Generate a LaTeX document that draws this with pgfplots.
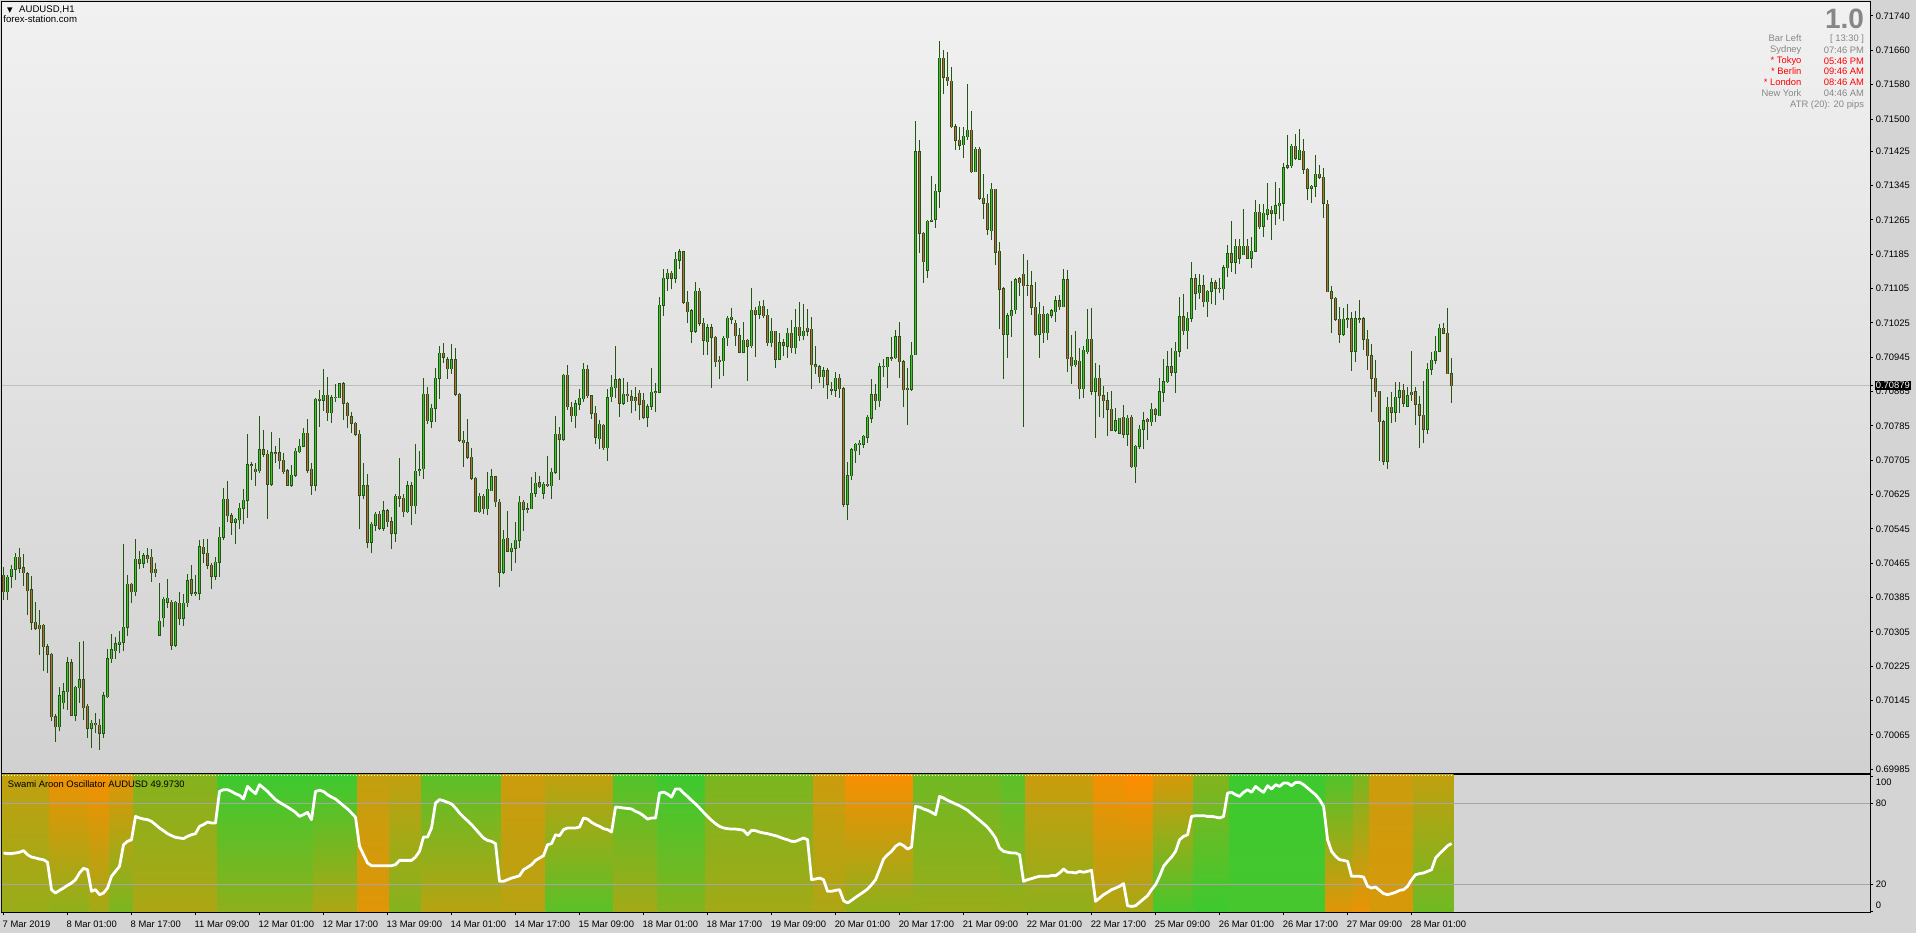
\documentclass[border=0pt]{standalone}
\usepackage{fontspec}
\setmainfont{Liberation Sans}
\newfontfamily\dejavu{DejaVu Sans}
\usepackage{pgfplots}
\usepackage{pgfplotstable}
\pgfplotsset{compat=1.18}
\definecolor{OR}{RGB}{255,140,0}
\definecolor{GR}{RGB}{50,205,50}
\definecolor{wick}{RGB}{35,85,20}
\definecolor{bull}{RGB}{60,200,40}
\definecolor{bear}{RGB}{200,100,70}
\definecolor{bg}{RGB}{212,212,212}
\definecolor{mainTop}{RGB}{241,241,241}
\definecolor{mainBot}{RGB}{209,209,209}
\definecolor{gridc}{RGB}{165,165,165}
\definecolor{pline}{RGB}{190,190,190}
\definecolor{infog}{RGB}{135,135,135}
\newcommand\mtf{\fontsize{4.7}{5.6}\selectfont}

% AUDUSD H1 candles: bar index, open, high, low, close
\pgfplotstableread{
i o h l c
0 0.70437 0.70457 0.70379 0.70399
1 0.70399 0.70437 0.70379 0.70432
2 0.70435 0.70461 0.70408 0.70451
3 0.70451 0.70488 0.70427 0.70479
4 0.70479 0.70500 0.70443 0.70453
5 0.70455 0.70486 0.70412 0.70443
6 0.70441 0.70444 0.70344 0.70401
7 0.70403 0.70435 0.70309 0.70327
8 0.70327 0.70374 0.70309 0.70313
9 0.70320 0.70356 0.70251 0.70312
10 0.70320 0.70323 0.70215 0.70271
11 0.70271 0.70276 0.70210 0.70253
12 0.70253 0.70255 0.70097 0.70107
13 0.70107 0.70113 0.70049 0.70084
14 0.70084 0.70177 0.70073 0.70156
15 0.70140 0.70185 0.70125 0.70166
16 0.70166 0.70246 0.70123 0.70233
17 0.70233 0.70243 0.70109 0.70111
18 0.70111 0.70179 0.70098 0.70176
19 0.70175 0.70281 0.70139 0.70194
20 0.70194 0.70284 0.70100 0.70128
21 0.70132 0.70136 0.70057 0.70080
22 0.70080 0.70100 0.70034 0.70092
23 0.70092 0.70117 0.70069 0.70089
24 0.70088 0.70101 0.70031 0.70069
25 0.70069 0.70166 0.70057 0.70156
26 0.70154 0.70266 0.70152 0.70243
27 0.70243 0.70300 0.70233 0.70263
28 0.70261 0.70294 0.70243 0.70278
29 0.70276 0.70308 0.70255 0.70281
30 0.70281 0.70510 0.70261 0.70316
31 0.70316 0.70437 0.70296 0.70416
32 0.70416 0.70418 0.70372 0.70399
33 0.70399 0.70521 0.70389 0.70474
34 0.70474 0.70494 0.70452 0.70465
35 0.70465 0.70490 0.70453 0.70483
36 0.70483 0.70500 0.70466 0.70476
37 0.70479 0.70499 0.70422 0.70443
38 0.70451 0.70465 0.70432 0.70443
39 0.70297 0.70420 0.70297 0.70330
40 0.70338 0.70387 0.70317 0.70381
41 0.70374 0.70428 0.70360 0.70383
42 0.70374 0.70379 0.70264 0.70274
43 0.70274 0.70378 0.70269 0.70374
44 0.70372 0.70399 0.70321 0.70337
45 0.70337 0.70393 0.70319 0.70372
46 0.70373 0.70439 0.70364 0.70424
47 0.70427 0.70462 0.70389 0.70395
48 0.70395 0.70437 0.70389 0.70396
49 0.70395 0.70519 0.70379 0.70504
50 0.70502 0.70521 0.70466 0.70488
51 0.70488 0.70521 0.70451 0.70460
52 0.70460 0.70465 0.70406 0.70435
53 0.70435 0.70480 0.70427 0.70467
54 0.70467 0.70549 0.70434 0.70525
55 0.70525 0.70640 0.70519 0.70614
56 0.70614 0.70657 0.70560 0.70576
57 0.70576 0.70581 0.70531 0.70560
58 0.70560 0.70570 0.70511 0.70567
59 0.70566 0.70605 0.70544 0.70593
60 0.70593 0.70637 0.70556 0.70612
61 0.70612 0.70766 0.70570 0.70694
62 0.70694 0.70702 0.70659 0.70693
63 0.70684 0.70698 0.70646 0.70678
64 0.70681 0.70808 0.70676 0.70730
65 0.70730 0.70775 0.70713 0.70719
66 0.70719 0.70729 0.70569 0.70649
67 0.70649 0.70770 0.70645 0.70723
68 0.70723 0.70737 0.70698 0.70721
69 0.70723 0.70757 0.70684 0.70704
70 0.70705 0.70723 0.70674 0.70678
71 0.70680 0.70684 0.70645 0.70647
72 0.70647 0.70694 0.70643 0.70670
73 0.70670 0.70733 0.70667 0.70726
74 0.70725 0.70754 0.70721 0.70737
75 0.70737 0.70779 0.70735 0.70768
76 0.70768 0.70800 0.70676 0.70682
77 0.70684 0.70698 0.70625 0.70647
78 0.70647 0.70851 0.70633 0.70847
79 0.70847 0.70869 0.70783 0.70845
80 0.70845 0.70918 0.70820 0.70856
81 0.70856 0.70898 0.70797 0.70816
82 0.70816 0.70857 0.70792 0.70851
83 0.70851 0.70882 0.70841 0.70852
84 0.70851 0.70884 0.70849 0.70883
85 0.70883 0.70887 0.70799 0.70838
86 0.70838 0.70841 0.70779 0.70809
87 0.70806 0.70817 0.70768 0.70791
88 0.70791 0.70793 0.70762 0.70765
89 0.70765 0.70775 0.70544 0.70623
90 0.70623 0.70698 0.70614 0.70646
91 0.70646 0.70673 0.70501 0.70514
92 0.70514 0.70561 0.70488 0.70556
93 0.70553 0.70585 0.70541 0.70579
94 0.70579 0.70587 0.70542 0.70546
95 0.70546 0.70610 0.70541 0.70587
96 0.70587 0.70592 0.70550 0.70562
97 0.70562 0.70572 0.70498 0.70535
98 0.70535 0.70626 0.70515 0.70621
99 0.70621 0.70710 0.70597 0.70616
100 0.70616 0.70626 0.70573 0.70585
101 0.70585 0.70657 0.70583 0.70646
102 0.70646 0.70655 0.70555 0.70599
103 0.70599 0.70743 0.70580 0.70679
104 0.70680 0.70727 0.70668 0.70683
105 0.70685 0.70897 0.70661 0.70859
106 0.70859 0.70876 0.70790 0.70797
107 0.70796 0.70836 0.70781 0.70826
108 0.70826 0.70920 0.70793 0.70896
109 0.70896 0.70971 0.70848 0.70954
110 0.70954 0.70977 0.70931 0.70945
111 0.70939 0.70946 0.70894 0.70918
112 0.70918 0.70975 0.70907 0.70939
113 0.70939 0.70966 0.70855 0.70859
114 0.70859 0.70861 0.70748 0.70751
115 0.70751 0.70773 0.70690 0.70746
116 0.70746 0.70801 0.70707 0.70712
117 0.70712 0.70733 0.70660 0.70663
118 0.70663 0.70665 0.70584 0.70585
119 0.70585 0.70628 0.70583 0.70621
120 0.70621 0.70626 0.70580 0.70592
121 0.70592 0.70678 0.70577 0.70637
122 0.70634 0.70685 0.70634 0.70667
123 0.70667 0.70668 0.70597 0.70608
124 0.70607 0.70614 0.70410 0.70444
125 0.70444 0.70542 0.70441 0.70521
126 0.70523 0.70587 0.70492 0.70493
127 0.70493 0.70513 0.70448 0.70500
128 0.70500 0.70561 0.70466 0.70518
129 0.70518 0.70622 0.70501 0.70607
130 0.70607 0.70612 0.70541 0.70591
131 0.70591 0.70605 0.70581 0.70592
132 0.70592 0.70667 0.70591 0.70628
133 0.70628 0.70678 0.70620 0.70651
134 0.70653 0.70668 0.70641 0.70643
135 0.70628 0.70655 0.70615 0.70649
136 0.70649 0.70715 0.70643 0.70646
137 0.70646 0.70686 0.70615 0.70677
138 0.70677 0.70808 0.70674 0.70765
139 0.70765 0.70783 0.70660 0.70754
140 0.70754 0.70907 0.70750 0.70903
141 0.70903 0.70927 0.70823 0.70830
142 0.70828 0.70841 0.70794 0.70809
143 0.70809 0.70845 0.70780 0.70837
144 0.70835 0.70872 0.70822 0.70849
145 0.70848 0.70932 0.70841 0.70917
146 0.70917 0.70927 0.70851 0.70855
147 0.70855 0.70858 0.70802 0.70814
148 0.70814 0.70831 0.70743 0.70758
149 0.70755 0.70799 0.70731 0.70789
150 0.70786 0.70789 0.70729 0.70734
151 0.70734 0.70872 0.70704 0.70851
152 0.70853 0.70903 0.70841 0.70875
153 0.70874 0.70971 0.70851 0.70892
154 0.70892 0.70897 0.70806 0.70838
155 0.70838 0.70896 0.70834 0.70859
156 0.70859 0.70888 0.70841 0.70855
157 0.70853 0.70869 0.70814 0.70844
158 0.70851 0.70876 0.70820 0.70844
159 0.70861 0.70869 0.70799 0.70835
160 0.70845 0.70861 0.70801 0.70805
161 0.70805 0.70837 0.70782 0.70830
162 0.70831 0.70921 0.70822 0.70863
163 0.70863 0.70886 0.70817 0.70864
164 0.70863 0.71085 0.70861 0.71066
165 0.71066 0.71150 0.71042 0.71129
166 0.71129 0.71150 0.71100 0.71141
167 0.71141 0.71147 0.71103 0.71129
168 0.71129 0.71189 0.71117 0.71173
169 0.71171 0.71196 0.71151 0.71191
170 0.71191 0.71192 0.71070 0.71073
171 0.71073 0.71099 0.71024 0.71051
172 0.71006 0.71057 0.70979 0.71053
173 0.71005 0.71120 0.71001 0.71099
174 0.71099 0.71106 0.71018 0.71024
175 0.71024 0.71037 0.70950 0.70984
176 0.70981 0.71022 0.70950 0.71014
177 0.71014 0.71022 0.70874 0.70991
178 0.70991 0.70994 0.70923 0.70935
179 0.70938 0.70948 0.70894 0.70935
180 0.70937 0.70995 0.70901 0.70989
181 0.70990 0.71041 0.70972 0.71036
182 0.71038 0.71059 0.71022 0.71033
183 0.71024 0.71032 0.70972 0.70995
184 0.70995 0.71012 0.70954 0.70956
185 0.70956 0.71028 0.70954 0.70984
186 0.70984 0.70987 0.70890 0.70970
187 0.70972 0.71107 0.70966 0.71054
188 0.71054 0.71061 0.70946 0.71045
189 0.71045 0.71076 0.71033 0.71064
190 0.71064 0.71078 0.71036 0.71042
191 0.71043 0.71057 0.70970 0.70979
192 0.70979 0.71036 0.70968 0.71006
193 0.71006 0.71007 0.70921 0.70940
194 0.70940 0.71001 0.70938 0.70979
195 0.70979 0.70987 0.70949 0.70973
196 0.70970 0.71012 0.70944 0.71001
197 0.71001 0.71032 0.70954 0.70967
198 0.70967 0.71057 0.70953 0.71015
199 0.71015 0.71074 0.70983 0.70995
200 0.70995 0.71069 0.70985 0.71005
201 0.71012 0.71057 0.70994 0.71005
202 0.71010 0.71039 0.70872 0.70928
203 0.70928 0.70971 0.70906 0.70923
204 0.70923 0.70926 0.70884 0.70900
205 0.70900 0.70923 0.70874 0.70913
206 0.70914 0.70919 0.70847 0.70882
207 0.70870 0.70888 0.70857 0.70868
208 0.70868 0.70911 0.70853 0.70896
209 0.70896 0.70906 0.70851 0.70872
210 0.70872 0.70875 0.70595 0.70602
211 0.70602 0.70701 0.70566 0.70669
212 0.70669 0.70734 0.70659 0.70729
213 0.70727 0.70746 0.70699 0.70742
214 0.70741 0.70752 0.70717 0.70744
215 0.70742 0.70764 0.70733 0.70761
216 0.70758 0.70810 0.70746 0.70805
217 0.70803 0.70894 0.70792 0.70858
218 0.70858 0.70882 0.70822 0.70844
219 0.70844 0.70931 0.70830 0.70923
220 0.70923 0.70941 0.70900 0.70924
221 0.70923 0.70946 0.70874 0.70944
222 0.70944 0.70993 0.70937 0.70942
223 0.70944 0.71008 0.70941 0.70993
224 0.70993 0.71027 0.70896 0.70935
225 0.70935 0.70938 0.70828 0.70869
226 0.70873 0.70919 0.70787 0.70869
227 0.70870 0.70981 0.70867 0.70950
228 0.70951 0.71495 0.70950 0.71424
229 0.71424 0.71451 0.71187 0.71234
230 0.71234 0.71237 0.71119 0.71168
231 0.71148 0.71265 0.71129 0.71262
232 0.71262 0.71368 0.71260 0.71264
233 0.71266 0.71349 0.71247 0.71332
234 0.71332 0.71682 0.71292 0.71641
235 0.71641 0.71661 0.71558 0.71597
236 0.71597 0.71656 0.71578 0.71589
237 0.71588 0.71621 0.71480 0.71482
238 0.71482 0.71488 0.71428 0.71450
239 0.71451 0.71481 0.71428 0.71439
240 0.71440 0.71482 0.71408 0.71460
241 0.71459 0.71582 0.71450 0.71474
242 0.71474 0.71519 0.71375 0.71377
243 0.71377 0.71434 0.71376 0.71429
244 0.71429 0.71434 0.71311 0.71315
245 0.71315 0.71371 0.71266 0.71304
246 0.71304 0.71325 0.71230 0.71243
247 0.71240 0.71351 0.71218 0.71336
248 0.71336 0.71337 0.71160 0.71189
249 0.71192 0.71213 0.71011 0.71103
250 0.71105 0.71109 0.70895 0.70998
251 0.70998 0.71047 0.70944 0.71042
252 0.71042 0.71122 0.70993 0.71053
253 0.71056 0.71130 0.71046 0.71126
254 0.71128 0.71133 0.71088 0.71119
255 0.71138 0.71186 0.70783 0.71112
256 0.71112 0.71172 0.71088 0.71111
257 0.71112 0.71146 0.71044 0.71061
258 0.71061 0.71121 0.70994 0.70997
259 0.70998 0.71074 0.70944 0.71045
260 0.71045 0.71064 0.70979 0.71002
261 0.71002 0.71049 0.70985 0.71045
262 0.71043 0.71058 0.71037 0.71053
263 0.71051 0.71088 0.71028 0.71077
264 0.71077 0.71089 0.71055 0.71063
265 0.71063 0.71150 0.71061 0.71126
266 0.71126 0.71148 0.70911 0.70942
267 0.70945 0.70997 0.70883 0.70925
268 0.70928 0.71005 0.70923 0.70938
269 0.70936 0.70966 0.70847 0.70872
270 0.70872 0.70970 0.70851 0.70961
271 0.70958 0.71057 0.70952 0.70987
272 0.70987 0.71059 0.70858 0.70866
273 0.70866 0.70932 0.70756 0.70896
274 0.70896 0.70928 0.70805 0.70855
275 0.70855 0.70879 0.70803 0.70844
276 0.70844 0.70865 0.70762 0.70824
277 0.70824 0.70866 0.70773 0.70775
278 0.70775 0.70827 0.70771 0.70797
279 0.70768 0.70803 0.70766 0.70803
280 0.70805 0.70834 0.70756 0.70765
281 0.70765 0.70810 0.70739 0.70803
282 0.70805 0.70810 0.70688 0.70690
283 0.70690 0.70740 0.70653 0.70737
284 0.70737 0.70786 0.70731 0.70777
285 0.70777 0.70817 0.70731 0.70797
286 0.70801 0.70804 0.70752 0.70795
287 0.70795 0.70838 0.70785 0.70824
288 0.70824 0.70827 0.70795 0.70812
289 0.70809 0.70896 0.70808 0.70865
290 0.70863 0.70942 0.70841 0.70888
291 0.70888 0.70959 0.70886 0.70923
292 0.70923 0.70966 0.70902 0.70910
293 0.70910 0.70981 0.70862 0.70959
294 0.70959 0.71085 0.70946 0.71039
295 0.71039 0.71092 0.70997 0.71007
296 0.71007 0.71050 0.70964 0.71036
297 0.71036 0.71166 0.71026 0.71128
298 0.71128 0.71138 0.71055 0.71094
299 0.71095 0.71140 0.71081 0.71112
300 0.71112 0.71137 0.71063 0.71074
301 0.71074 0.71102 0.71039 0.71099
302 0.71099 0.71130 0.71069 0.71119
303 0.71119 0.71125 0.71067 0.71106
304 0.71106 0.71129 0.71094 0.71104
305 0.71104 0.71161 0.71078 0.71154
306 0.71154 0.71206 0.71133 0.71186
307 0.71186 0.71262 0.71143 0.71166
308 0.71166 0.71220 0.71140 0.71203
309 0.71203 0.71220 0.71162 0.71176
310 0.71184 0.71290 0.71183 0.71203
311 0.71203 0.71220 0.71174 0.71176
312 0.71176 0.71226 0.71154 0.71192
313 0.71192 0.71311 0.71191 0.71283
314 0.71283 0.71302 0.71243 0.71249
315 0.71250 0.71302 0.71226 0.71280
316 0.71278 0.71351 0.71265 0.71290
317 0.71287 0.71297 0.71218 0.71281
318 0.71280 0.71354 0.71253 0.71298
319 0.71298 0.71339 0.71266 0.71304
320 0.71304 0.71397 0.71263 0.71387
321 0.71388 0.71463 0.71383 0.71391
322 0.71391 0.71441 0.71387 0.71436
323 0.71436 0.71465 0.71405 0.71408
324 0.71406 0.71477 0.71405 0.71427
325 0.71425 0.71453 0.71373 0.71383
326 0.71383 0.71387 0.71311 0.71339
327 0.71339 0.71346 0.71305 0.71343
328 0.71343 0.71416 0.71319 0.71371
329 0.71371 0.71393 0.71360 0.71364
330 0.71364 0.71385 0.71270 0.71304
331 0.71301 0.71311 0.71096 0.71098
332 0.71098 0.71111 0.71001 0.71082
333 0.71082 0.71085 0.71030 0.71033
334 0.71033 0.71061 0.70979 0.70998
335 0.70998 0.71059 0.70994 0.71033
336 0.71033 0.71068 0.71012 0.71035
337 0.71035 0.71051 0.70914 0.70959
338 0.70959 0.71053 0.70933 0.71035
339 0.71035 0.71078 0.71024 0.71033
340 0.71035 0.71039 0.70962 0.70987
341 0.70987 0.71008 0.70915 0.70949
342 0.70949 0.70976 0.70817 0.70896
343 0.70896 0.70939 0.70853 0.70865
344 0.70866 0.70867 0.70703 0.70795
345 0.70795 0.70799 0.70694 0.70703
346 0.70703 0.70852 0.70685 0.70828
347 0.70828 0.70865 0.70791 0.70817
348 0.70817 0.70888 0.70795 0.70852
349 0.70852 0.70888 0.70814 0.70867
350 0.70868 0.70883 0.70830 0.70838
351 0.70831 0.70876 0.70830 0.70855
352 0.70863 0.70959 0.70843 0.70858
353 0.70865 0.70875 0.70787 0.70835
354 0.70834 0.70855 0.70733 0.70810
355 0.70810 0.70890 0.70744 0.70777
356 0.70777 0.70932 0.70766 0.70917
357 0.70917 0.70957 0.70904 0.70938
358 0.70938 0.70994 0.70929 0.70959
359 0.70959 0.71022 0.70956 0.71012
360 0.71012 0.71024 0.70999 0.71001
361 0.71001 0.71059 0.70906 0.70907
362 0.70907 0.70944 0.70839 0.70879
}\candles

% Swami Aroon oscillator line (0..100)
\pgfplotstableread{
i v
0 43.0
1 42.5
2 42.5
3 43.0
4 43.5
5 44.7
6 41.7
7 40.0
8 39.3
9 38.5
10 38.0
11 36.1
12 15.8
13 13.3
14 15.3
15 17.0
16 19.0
17 20.7
18 23.2
19 28.2
20 31.6
21 30.6
22 14.6
23 15.8
24 12.1
25 13.3
26 17.0
27 25.7
28 29.4
29 33.1
30 49.1
31 51.6
32 52.8
33 70.1
34 68.9
35 68.1
36 67.7
37 66.4
38 64.0
39 61.5
40 59.5
41 57.3
42 55.8
43 54.6
44 54.1
45 53.6
46 55.3
47 56.5
48 57.3
49 62.7
50 64.0
51 65.9
52 65.2
53 65.2
54 88.6
55 89.9
56 89.9
57 88.6
58 86.9
59 85.7
60 83.0
61 92.3
62 89.4
63 86.9
64 93.6
65 91.1
66 88.6
67 85.4
68 82.5
69 80.5
70 78.8
71 77.0
72 75.1
73 73.1
74 70.1
75 71.4
76 73.1
77 67.7
78 88.6
79 89.4
80 88.6
81 86.2
82 84.4
83 83.0
84 80.5
85 78.0
86 75.6
87 72.6
88 69.4
89 47.9
90 41.7
91 35.6
92 33.6
93 33.6
94 33.6
95 33.6
96 33.6
97 33.6
98 34.3
99 37.5
100 37.5
101 37.5
102 37.5
103 40.0
104 44.2
105 54.8
106 54.8
107 61.5
108 80.0
109 82.5
110 81.7
111 80.5
112 79.3
113 76.3
114 72.6
115 69.6
116 66.9
117 64.0
118 60.7
119 57.3
120 54.1
121 52.3
122 51.6
123 49.9
124 22.0
125 22.0
126 23.2
127 24.4
128 25.2
129 26.2
130 30.6
131 32.4
132 34.3
133 37.5
134 39.3
135 41.0
136 49.1
137 49.9
138 56.5
139 55.8
140 60.3
141 61.5
142 61.5
143 61.5
144 62.2
145 68.9
146 68.1
147 65.7
148 64.0
149 62.7
150 61.0
151 60.3
152 58.5
153 77.0
154 76.8
155 76.3
156 76.0
157 75.6
158 73.8
159 72.6
160 70.6
161 68.1
162 68.9
163 68.9
164 87.4
165 88.1
166 86.7
167 84.4
168 90.4
169 90.4
170 87.4
171 84.9
172 82.0
173 79.3
174 76.3
175 73.1
176 70.1
177 67.2
178 64.7
179 62.7
180 61.5
181 61.0
182 60.7
183 60.7
184 60.3
185 59.8
186 56.5
187 59.8
188 59.5
189 58.5
190 57.8
191 57.3
192 56.5
193 55.8
194 54.8
195 53.6
196 52.8
197 51.6
198 51.6
199 52.8
200 54.1
201 52.8
202 23.2
203 23.7
204 24.4
205 23.2
206 14.6
207 14.6
208 15.3
209 15.8
210 7.7
211 5.9
212 7.9
213 10.1
214 12.1
215 14.1
216 16.3
217 19.5
218 23.2
219 30.6
220 38.5
221 41.7
222 44.2
223 47.9
224 49.9
225 48.4
226 45.9
227 47.4
228 77.5
229 77.0
230 75.6
231 74.6
232 73.1
233 71.4
234 84.9
235 83.7
236 82.0
237 80.7
238 79.3
239 78.0
240 76.3
241 74.6
242 72.1
243 69.6
244 67.2
245 64.7
246 62.0
247 58.3
248 54.1
249 46.7
250 44.2
251 43.5
252 43.0
253 43.0
254 41.7
255 22.0
256 23.2
257 24.0
258 25.0
259 25.7
260 25.7
261 25.7
262 26.2
263 26.2
264 28.2
265 31.1
266 28.7
267 28.7
268 28.2
269 29.4
270 28.7
271 29.4
272 30.1
273 7.2
274 9.6
275 12.1
276 13.8
277 15.8
278 17.0
279 18.3
280 20.3
281 3.9
282 3.4
283 3.9
284 6.4
285 8.9
286 11.4
287 15.8
288 19.5
289 25.7
290 33.1
291 36.8
292 40.0
293 44.2
294 52.8
295 55.3
296 56.5
297 70.1
298 70.6
299 70.6
300 70.6
301 70.1
302 70.1
303 69.6
304 68.9
305 70.1
306 87.4
307 87.9
308 86.2
309 84.9
310 87.9
311 89.9
312 87.9
313 92.3
314 89.9
315 87.9
316 92.8
317 90.4
318 93.6
319 92.3
320 94.8
321 94.8
322 92.8
323 95.3
324 95.3
325 93.6
326 91.1
327 88.6
328 86.2
329 82.5
330 77.5
331 52.8
332 44.2
333 40.5
334 38.0
335 37.5
336 36.8
337 25.7
338 25.7
339 25.7
340 25.2
341 18.3
342 17.0
343 17.8
344 15.3
345 12.9
346 12.1
347 12.9
348 13.8
349 15.3
350 15.8
351 18.3
352 23.2
353 26.9
354 27.7
355 28.2
356 29.4
357 30.6
358 39.3
359 42.5
360 45.4
361 48.4
362 49.97
}\osc

% background band: from, to, top %green, middle %green, bottom %green
\newcommand\seg[5]{\addplot[draw=none, forget plot, top color=GR!#3!OR, middle color=GR!#4!OR, bottom color=GR!#5!OR] coordinates {(#1,0) (#1,101) (#2,101) (#2,0)} -- cycle;}

\begin{document}
\begin{tikzpicture}[x=1pt,y=1pt]
\fill[bg] (0,0) rectangle (958,466.5);
\path[use as bounding box] (0,0) rectangle (958,466.5);

\begin{axis}[
  at={(1pt,80pt)}, anchor=south west, scale only axis,
  width=934pt, height=385.5pt,
  xmin=-0.375, xmax=466.6, ymin=0.699763, ymax=0.717726,
  axis background/.style={top color=mainTop, bottom color=mainBot},
  axis line style={black, line width=0.5pt},
  xtick=\empty,
  ytick={0.69985,0.70065,0.70145,0.70225,0.70305,0.70385,0.70465,0.70545,0.70625,0.70705,0.70785,0.70865,0.70945,0.71025,0.71105,0.71185,0.71265,0.71345,0.71425,0.71500,0.71580,0.71660,0.71740},
  yticklabels={0.69985,0.70065,0.70145,0.70225,0.70305,0.70385,0.70465,0.70545,0.70625,0.70705,0.70785,0.70865,0.70945,0.71025,0.71105,0.71185,0.71265,0.71345,0.71425,0.71500,0.71580,0.71660,0.71740},
  ytick pos=right, yticklabel pos=right, tick align=outside,
  major tick length=1.5pt, tick style={black, line width=0.5pt},
  yticklabel style={anchor=west, inner sep=0pt, xshift=1.2pt, font=\mtf},
  extra y ticks={0.70879}, extra y tick labels={0.70879},
  extra y tick style={grid=major, major grid style={pline, line width=0.5pt},
     yticklabel style={fill=black, text=white, inner sep=0.6pt, xshift=-0.6pt}},
]
\addplot[draw=none, forget plot, error bars/.cd, y dir=plus, y explicit, error mark=none,
  error bar style={draw=wick, line width=0.5pt}]
  table[x=i, y=l, y error expr=\thisrow{h}-\thisrow{l}] {\candles};
\addplot[draw=none, forget plot, error bars/.cd, y dir=plus, y explicit, error mark=none,
  error bar style={draw=wick, line width=1.5pt}]
  table[x=i, y expr={min(\thisrow{o},\thisrow{c})-0.000012}, y error expr={abs(\thisrow{c}-\thisrow{o})+0.000024}] {\candles};
\addplot[draw=none, forget plot, restrict expr to domain={\thisrow{c}-\thisrow{o}}{0:1},
  error bars/.cd, y dir=plus, y explicit, error mark=none,
  error bar style={draw=bull, line width=0.6pt}]
  table[x=i, y=o, y error expr=\thisrow{c}-\thisrow{o}] {\candles};
\addplot[draw=none, forget plot, restrict expr to domain={\thisrow{c}-\thisrow{o}}{-1:-0.000001},
  error bars/.cd, y dir=plus, y explicit, error mark=none,
  error bar style={draw=bear, line width=0.6pt}]
  table[x=i, y=c, y error expr=\thisrow{o}-\thisrow{c}] {\candles};
\end{axis}

\begin{axis}[
  at={(1pt,10.5pt)}, anchor=south west, scale only axis,
  width=934pt, height=69pt,
  xmin=-0.375, xmax=466.6, ymin=-0.74, ymax=101.5,
  axis background/.style={fill=bg},
  axis line style={black, line width=0.5pt},
  xtick={0,16,...,352},
  xticklabels={7 Mar 2019,8 Mar 01:00,8 Mar 17:00,11 Mar 09:00,12 Mar 01:00,12 Mar 17:00,13 Mar 09:00,14 Mar 01:00,14 Mar 17:00,15 Mar 09:00,18 Mar 01:00,18 Mar 17:00,19 Mar 09:00,20 Mar 01:00,20 Mar 17:00,21 Mar 09:00,22 Mar 01:00,22 Mar 17:00,25 Mar 09:00,26 Mar 01:00,26 Mar 17:00,27 Mar 09:00,28 Mar 01:00},
  xtick pos=left, ytick pos=right, yticklabel pos=right, tick align=outside,
  major tick length=1.5pt, tick style={black, line width=0.5pt},
  xticklabel style={anchor=west, inner sep=0pt, yshift=-4.8pt, xshift=-0.6pt, font=\mtf},
  ytick={0,20,80,100},
  yticklabels={{\smash{\raisebox{1.5pt}{0}}},20,80,{\smash{\raisebox{-4.5pt}{100}}}},
  yticklabel style={anchor=west, inner sep=0pt, xshift=1.2pt, font=\mtf},
]
\seg{-0.375}{11.5}{30}{45}{50}
\seg{11.5}{21.5}{8}{30}{55}
\seg{21.5}{26.5}{5}{20}{45}
\seg{26.5}{32.5}{15}{55}{65}
\seg{32.5}{53.5}{60}{60}{40}
\seg{53.5}{77.5}{95}{82}{55}
\seg{77.5}{88.5}{95}{80}{40}
\seg{88.5}{96.5}{30}{20}{15}
\seg{96.5}{104.5}{30}{30}{60}
\seg{104.5}{124.5}{80}{65}{35}
\seg{124.5}{135.5}{25}{25}{35}
\seg{135.5}{152.5}{30}{75}{80}
\seg{152.5}{163.5}{85}{70}{45}
\seg{163.5}{175.5}{95}{80}{60}
\seg{175.5}{202.5}{65}{55}{45}
\seg{202.5}{210.5}{25}{12}{40}
\seg{210.5}{227.5}{3}{20}{55}
\seg{227.5}{249.5}{70}{85}{50}
\seg{249.5}{255.5}{80}{70}{50}
\seg{255.5}{272.5}{25}{40}{55}
\seg{272.5}{280.5}{5}{20}{40}
\seg{280.5}{287.5}{0}{10}{45}
\seg{287.5}{297.5}{20}{65}{90}
\seg{297.5}{306.5}{60}{85}{95}
\seg{306.5}{330.5}{95}{95}{90}
\seg{330.5}{337.5}{85}{50}{15}
\seg{337.5}{341.5}{65}{30}{10}
\seg{341.5}{352.5}{25}{12}{20}
\seg{352.5}{362.5}{30}{25}{70}
\addplot[white, line width=0.5pt, dash pattern=on 0.5pt off 1pt, forget plot] coordinates {(-0.375,100.6) (362.5,100.6)};
\addplot[gridc, line width=0.5pt, forget plot] coordinates {(-0.375,80) (466.6,80)};
\addplot[gridc, line width=0.5pt, forget plot] coordinates {(-0.375,20) (466.6,20)};
\addplot[white, line width=1.4pt, line join=round] table[x=i, y=v] {\osc};
\end{axis}

% captions
\node[anchor=center, inner sep=0pt, font=\dejavu\fontsize{3.6}{4}\selectfont] at (4.9,461.1) {▼};
\node[anchor=west, inner sep=0pt, font=\fontsize{4.8}{5.6}\selectfont] at (9.4,461.4) {AUDUSD,H1};
\node[anchor=west, inner sep=0pt, font=\fontsize{4.8}{5.6}\selectfont] at (1.5,457.2) {forex-station.com};
\node[anchor=east, inner sep=0pt, text=infog, font=\bfseries\fontsize{14}{16}\selectfont] at (932.2,457.3) {1.0};
\begin{scope}[every node/.style={inner sep=0pt, font=\mtf}]
\node[anchor=east, text=infog] at (900.9,447.2) {Bar Left};
\node[anchor=east, text=infog] at (932.2,447.2) {[ 13:30 ]};
\node[anchor=east, text=infog] at (900.9,441.6) {Sydney};
\node[anchor=east, text=infog] at (932.2,441.6) {07:46 PM};
\node[anchor=east, text=red] at (900.9,436.1) {* Tokyo};
\node[anchor=east, text=red] at (932.2,436.1) {05:46 PM};
\node[anchor=east, text=red] at (900.9,430.7) {* Berlin};
\node[anchor=east, text=red] at (932.2,430.7) {09:46 AM};
\node[anchor=east, text=red] at (900.9,425.3) {* London};
\node[anchor=east, text=red] at (932.2,425.3) {08:46 AM};
\node[anchor=east, text=infog] at (900.9,419.9) {New York};
\node[anchor=east, text=infog] at (932.2,419.9) {04:46 AM};
\node[anchor=east, text=infog] at (932.2,413.9) {ATR (20): 20 pips};
\node[anchor=west] at (3.8,74.5) {Swami Aroon Oscillator AUDUSD 49.9730};
\end{scope}
\end{tikzpicture}
\end{document}
